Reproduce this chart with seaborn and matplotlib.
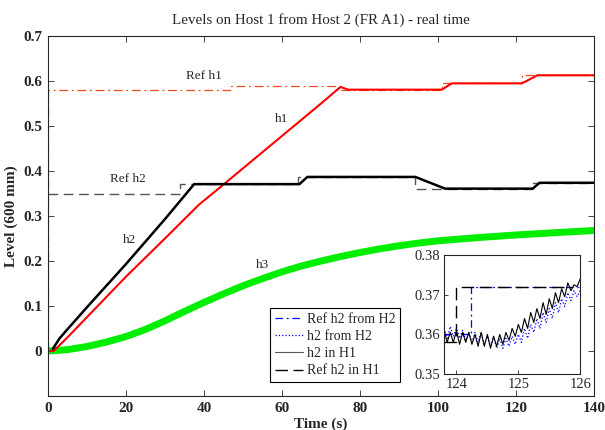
import numpy as np
import seaborn as sns
import matplotlib
matplotlib.use("Agg")
import matplotlib.pyplot as plt

# ---- main plot data ----
h1_t = [0, 1.5, 5, 10, 20, 30, 38.7, 45, 60, 70, 75, 77, 101, 103.5, 121.5, 125.5, 140]
h1_y = [0, 0.0, 0.03, 0.075, 0.165, 0.25, 0.325, 0.37, 0.478, 0.55, 0.587, 0.581, 0.581,
        0.595, 0.595, 0.613, 0.613]

h2_t = [1.3, 3, 5, 10, 15, 20, 25, 30, 35, 37.5, 64.5, 66.5, 94.2, 101.8, 124.3, 126, 140]
h2_y = [0.005, 0.028, 0.048, 0.097, 0.145, 0.193, 0.243, 0.293, 0.345, 0.371, 0.371, 0.387,
        0.387, 0.361, 0.361, 0.374, 0.374]

h3_t = [0, 5, 10, 15, 20, 25, 30, 35, 40, 45, 50, 55, 60, 65, 70, 75, 80, 85, 90, 95, 100,
        110, 120, 130, 140]
h3_y = [0.0, 0.003, 0.01, 0.02, 0.032, 0.048, 0.067, 0.088, 0.108, 0.127, 0.145, 0.161, 0.176,
        0.189, 0.2, 0.21, 0.219, 0.227, 0.234, 0.24, 0.245, 0.252, 0.258, 0.263, 0.268]

ref_h1_t = [0, 0, 47, 47, 74, 74, 101, 101, 121.5, 121.5, 140]
ref_h1_y = [0, 0.58, 0.58, 0.59, 0.59, 0.581, 0.581, 0.596, 0.596, 0.614, 0.614]

ref_h2_t = [0, 33.8, 33.8, 64, 64, 94, 94, 124, 124, 140]
ref_h2_y = [0.348, 0.348, 0.371, 0.371, 0.387, 0.387, 0.36, 0.36, 0.373, 0.373]

# ---- inset data ----
zoom_t = [123.80, 123.85, 123.90, 123.95, 124.00, 124.05, 124.10, 124.15, 124.20, 124.25,
          124.30, 124.35, 124.40, 124.45, 124.50, 124.55, 124.60, 124.65, 124.70, 124.75,
          124.80, 124.85, 124.90, 124.95, 125.00, 125.05, 125.10, 125.15, 125.20, 125.25,
          125.30, 125.35, 125.40, 125.45, 125.50, 125.55, 125.60, 125.65, 125.70, 125.75,
          125.80, 125.85, 125.90, 125.95, 126.00]
h2_in_h1 = [0.361, 0.358, 0.3605, 0.358, 0.361, 0.3575, 0.3605, 0.358, 0.3605, 0.3575,
            0.360, 0.357, 0.3605, 0.357, 0.360, 0.3565, 0.3595, 0.357, 0.360, 0.3575,
            0.3605, 0.3585, 0.3615, 0.3595, 0.3625, 0.3605, 0.364, 0.3615, 0.3655, 0.363,
            0.3665, 0.364, 0.368, 0.365, 0.369, 0.3665, 0.3705, 0.368, 0.3715, 0.3695,
            0.373, 0.371, 0.3725, 0.372, 0.374]
h2_from_h2 = [0.3615, 0.359, 0.362, 0.3595, 0.3615, 0.359, 0.361, 0.3585, 0.3605, 0.358,
              0.3605, 0.358, 0.3605, 0.3575, 0.3595, 0.357, 0.3595, 0.3565, 0.359, 0.3565,
              0.359, 0.357, 0.3595, 0.3575, 0.360, 0.358, 0.3615, 0.359, 0.3625, 0.3605,
              0.364, 0.3615, 0.3655, 0.363, 0.3665, 0.364, 0.368, 0.3655, 0.369, 0.367,
              0.3705, 0.3685, 0.371, 0.3695, 0.371]
ref_h2_h2_t = [123.8, 124.23, 124.23, 126.0]
ref_h2_h2_y = [0.36, 0.36, 0.372, 0.372]
ref_h2_h1_t = [123.8, 124.0, 124.0, 125.85]
ref_h2_h1_y = [0.358, 0.358, 0.372, 0.372]

sns.set_theme(style="ticks")
plt.rcParams['font.family'] = ['Liberation Serif', 'DejaVu Serif']
plt.rcParams['axes.linewidth'] = 0.8

fig = plt.figure(figsize=(6.05, 4.30), dpi=100)
ax = fig.add_axes([0.079, 0.079, 0.903, 0.837])


def draw(axis, t, y, **kw):
    sns.lineplot(x=t, y=y, ax=axis, estimator=None, sort=False, legend=False, **kw)
    return axis.lines[-1]


# main lines
draw(ax, h3_t, h3_y, color='#00ee00', lw=5)
ln = draw(ax, ref_h1_t, ref_h1_y, color='#f04a1e', lw=0.9)
ln.set_dashes((7, 3, 1.5, 3))
ln = draw(ax, ref_h2_t, ref_h2_y, color='#555555', lw=1.0)
ln.set_dashes((7, 4))
draw(ax, h1_t, h1_y, color='#ff0000', lw=1.5)
draw(ax, h2_t, h2_y, color='black', lw=1.8)

ax.set_xlim(0, 140)
ax.set_ylim(-0.1, 0.7)
ax.set_xticks(np.arange(0, 141, 20))
ax.set_yticks([0, 0.1, 0.2, 0.3, 0.4, 0.5, 0.6, 0.7])
ax.set_yticklabels(['0', '0.1', '0.2', '0.3', '0.4', '0.5', '0.6', '0.7'])
ax.tick_params(direction='in', top=True, right=True, length=4, width=0.6,
               labelsize=11, pad=4)
for lab in ax.get_xticklabels() + ax.get_yticklabels():
    lab.set_fontweight('bold')
ax.set_xlabel('Time (s)', fontsize=11, fontweight='bold', labelpad=2)
ax.set_ylabel('Level (600 mm)', fontsize=11, fontweight='bold', labelpad=4)
ax.set_title('Levels on Host 1 from Host 2 (FR A1) - real time', fontsize=10.8, pad=9)

# annotations
ax.text(40, 0.605, 'Ref h1', fontsize=9.5, ha='center')
ax.text(60, 0.51, 'h1', fontsize=9.5, ha='center')
ax.text(20.5, 0.375, 'Ref h2', fontsize=9.5, ha='center')
ax.text(21, 0.24, 'h2', fontsize=9.5, ha='center')
ax.text(55, 0.185, 'h3', fontsize=9.5, ha='center')

# inset
axi = fig.add_axes([0.734, 0.130, 0.225, 0.277])
l1 = draw(axi, ref_h2_h2_t, ref_h2_h2_y, color='blue', lw=0.9)
l1.set_dashes((6, 3, 1.5, 3))
l2 = draw(axi, zoom_t, h2_from_h2, color='blue', lw=0.9, linestyle=':')
l3 = draw(axi, zoom_t, h2_in_h1, color='black', lw=0.8)
l4 = draw(axi, ref_h2_h1_t, ref_h2_h1_y, color='black', lw=1.0)
l4.set_dashes((9, 4))
axi.set_xlim(123.8, 126)
axi.set_ylim(0.35, 0.38)
axi.set_xticks([124, 125, 126])
axi.set_yticks([0.35, 0.36, 0.37, 0.38])
axi.set_yticklabels(['0.35', '0.36', '0.37', '0.38'])
axi.tick_params(direction='in', length=3, width=0.6, labelsize=10.5, pad=3)
axi.set_xlabel('')
axi.set_ylabel('')

# legend
leg_lines = [l1, l2, l3, l4]
leg_labels = ['Ref h2 from H2', 'h2 from H2', 'h2 in H1', 'Ref h2 in H1']
leg = fig.legend(leg_lines, leg_labels, loc='upper left',
                 bbox_to_anchor=(270 / 605, 1 - 308 / 430), fontsize=10,
                 frameon=True, fancybox=False, edgecolor='black', framealpha=1,
                 handlelength=2.0, handletextpad=0.3, labelspacing=0.3,
                 borderpad=0.35, borderaxespad=0)
leg.get_frame().set_linewidth(0.8)
leg.legend_handles[2].set_color('#555555')

fig.savefig('out.png', dpi=100)
